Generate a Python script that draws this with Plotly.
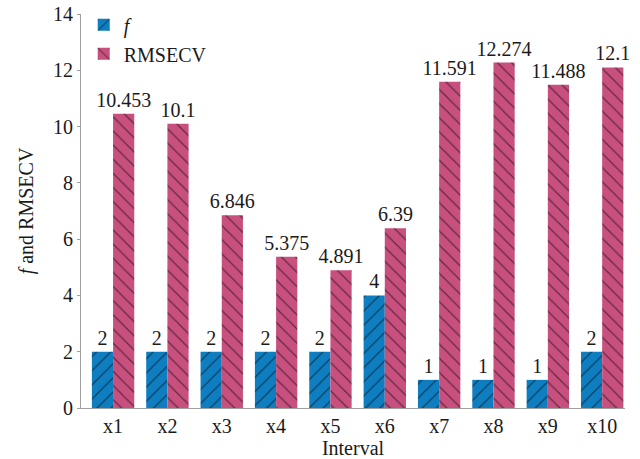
import plotly.graph_objects as go

intervals = ["x1", "x2", "x3", "x4", "x5", "x6", "x7", "x8", "x9", "x10"]
f_values = [2, 2, 2, 2, 2, 4, 1, 1, 1, 2]
rmsecv_values = [10.453, 10.1, 6.846, 5.375, 4.891, 6.39, 11.591, 12.274, 11.488, 12.1]
y_ticks = [0, 2, 4, 6, 8, 10, 12, 14]

FONT = "Liberation Serif"
FSIZE = 20
TEXT_COLOR = "#1a1a1a"
BLUE = "#0f7ec0"
PINK = "#c8507e"

fig = go.Figure()
fig.add_trace(go.Bar(
    x=intervals, y=f_values, name="<i>f</i>",
    text=[str(v) for v in f_values], textposition="outside", cliponaxis=False,
    marker=dict(color=BLUE, line=dict(width=0),
                pattern=dict(shape="/", fgcolor="black", bgcolor=BLUE, size=10, solidity=0.12)),
))
fig.add_trace(go.Bar(
    x=intervals, y=rmsecv_values, name="RMSECV",
    text=[f"{v:g}" for v in rmsecv_values], textposition="outside", cliponaxis=False,
    marker=dict(color=PINK, line=dict(width=0),
                pattern=dict(shape="\\", fgcolor="black", bgcolor=PINK, size=10, solidity=0.12)),
))

fig.update_traces(textfont=dict(family=FONT, size=FSIZE, color=TEXT_COLOR))

fig.update_layout(
    width=640, height=459,
    margin=dict(l=81, r=15, t=14, b=51, autoexpand=False),
    paper_bgcolor="white", plot_bgcolor="white",
    barmode="group", bargap=0.22, bargroupgap=0,
    uniformtext=dict(minsize=FSIZE, mode="show"),
    font=dict(family=FONT, size=FSIZE, color=TEXT_COLOR),
    showlegend=True,
    legend=dict(x=0.005, y=1.022, xanchor="left", yanchor="top",
                bgcolor="rgba(0,0,0,0)", font=dict(family=FONT, size=FSIZE),
                itemwidth=30, tracegroupgap=0),
    xaxis=dict(
        range=[-0.59, 9.42], showgrid=False, zeroline=False, automargin=False,
        showline=True, linecolor="#a0a0a0", linewidth=1,
        ticks="", tickfont=dict(family=FONT, size=FSIZE, color=TEXT_COLOR),
        title=dict(text="Interval", font=dict(family=FONT, size=FSIZE), standoff=0),
    ),
    yaxis=dict(
        range=[0, 14], tickvals=y_ticks, showgrid=False, zeroline=False, automargin=False,
        showline=True, linecolor="#a0a0a0", linewidth=1,
        ticks="outside", ticklen=3, tickcolor="#a0a0a0",
        tickfont=dict(family=FONT, size=FSIZE, color=TEXT_COLOR),
        title=dict(text="<i>f</i> and RMSECV", font=dict(family=FONT, size=FSIZE), standoff=14),
    ),
)

fig.write_html("out.html")
